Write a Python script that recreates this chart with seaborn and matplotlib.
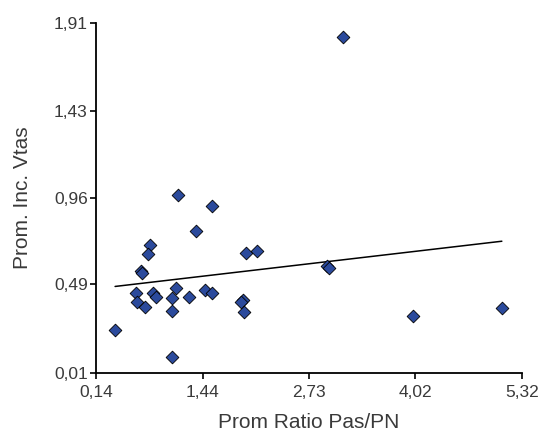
import matplotlib
matplotlib.use("Agg")
import matplotlib.pyplot as plt
import seaborn as sns
import pandas as pd

ratio_pas_pn = [1.14, 1.555, 1.357, 0.797, 0.769, 0.687, 0.696, 1.965, 2.095,
                0.627, 0.83, 0.866, 1.113, 1.068, 1.275, 1.466, 1.555, 0.635,
                0.736, 1.065, 1.925, 1.904, 1.944, 0.371, 1.068,
                3.149, 2.947, 2.978, 4.0, 5.075]
inc_vtas = [0.976, 0.918, 0.779, 0.705, 0.656, 0.565, 0.551, 0.66, 0.669,
            0.443, 0.443, 0.424, 0.47, 0.416, 0.424, 0.461, 0.443, 0.394,
            0.37, 0.348, 0.406, 0.394, 0.34, 0.243, 0.095,
            1.836, 0.592, 0.578, 0.321, 0.361]

x_ticks = [0.14, 1.44, 2.73, 4.02, 5.32]
x_labels = ['0,14', '1,44', '2,73', '4,02', '5,32']
y_ticks = [0.01, 0.49, 0.96, 1.43, 1.91]
y_labels = ['0,01', '0,49', '0,96', '1,43', '1,91']

df = pd.DataFrame({'ratio': ratio_pas_pn, 'inc': inc_vtas})

sns.set_style("ticks")
plt.rcParams['font.family'] = ['Liberation Sans', 'DejaVu Sans']

fig = plt.figure(figsize=(5.46, 4.36), dpi=100)
ax = fig.add_axes([0.176, 0.145, 0.780, 0.802])

sns.regplot(data=df, x='ratio', y='inc', scatter=False, ci=None, ax=ax,
            color='black', line_kws={'linewidth': 1.1})
sns.scatterplot(data=df, x='ratio', y='inc', marker='D', s=42, color='#2B4A9C',
                edgecolor='black', linewidth=0.6, ax=ax, zorder=3)

ax.set_xlim(0.14, 5.32)
ax.set_ylim(0.01, 1.91)
ax.set_xticks(x_ticks)
ax.set_xticklabels(x_labels)
ax.set_yticks(y_ticks)
ax.set_yticklabels(y_labels)
ax.tick_params(labelsize=12.5, length=4, width=1.2, colors='black',
               labelcolor='#3a3a3a')
ax.tick_params(axis='x', pad=5)
ax.tick_params(axis='y', pad=2)
ax.set_xlabel('Prom Ratio Pas/PN', fontsize=15, color='#3a3a3a', labelpad=9)
ax.set_ylabel('Prom. Inc. Vtas', fontsize=15, color='#3a3a3a', labelpad=16)
sns.despine(ax=ax)
for s in ['left', 'bottom']:
    ax.spines[s].set_linewidth(1.3)
    ax.spines[s].set_color('black')

fig.savefig('out.png', dpi=100)
